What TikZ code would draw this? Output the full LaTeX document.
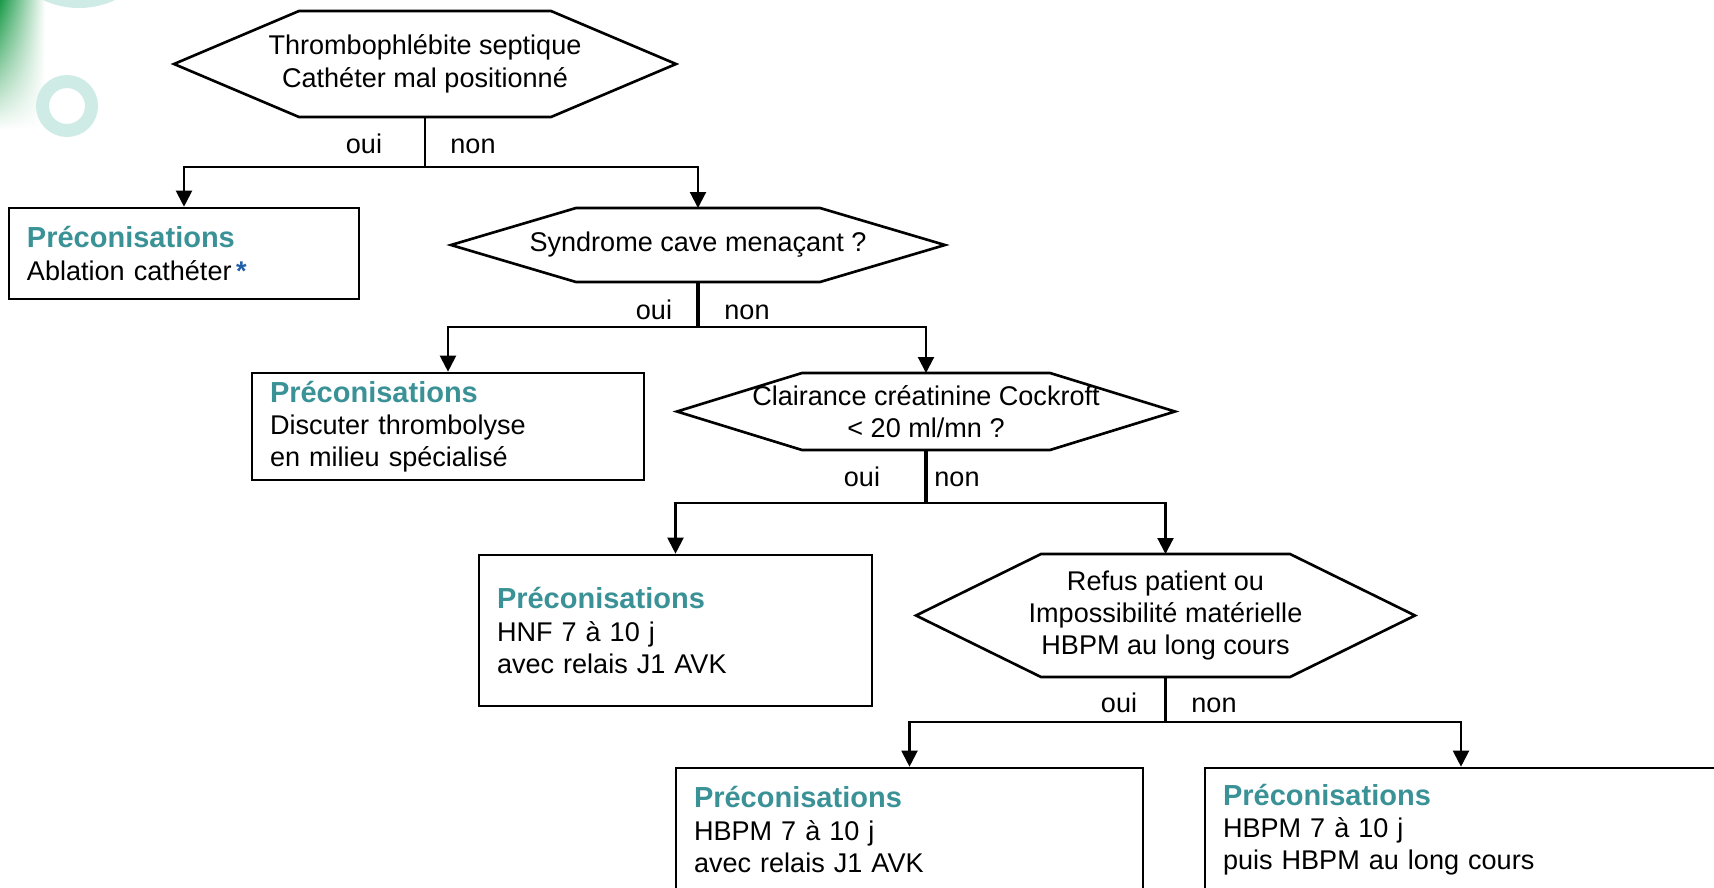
\documentclass[tikz,border=0pt]{standalone}
\usepackage{fontspec}
\setmainfont{Liberation Sans}
\usepackage{tikz}
\usetikzlibrary{arrows.meta, shadings}

\definecolor{precteal}{HTML}{3A9297}
\definecolor{starblue}{HTML}{1F5FA8}
\definecolor{ringteal}{HTML}{CEEBE6}
\definecolor{leafgreen}{HTML}{1A9A48}
\newcommand{\precon}{{\fontsize{16.5}{19}\selectfont\bfseries\color{precteal}Préconisations}}

\begin{document}
\begin{tikzpicture}[font=\fontsize{15.4}{18.4}\selectfont,
  hexa/.style={inner sep=0pt, outer sep=0pt, align=center},
  recbox/.style={draw, line width=1.5pt, align=left, inner xsep=0.36cm},
  link/.style={line width=1.2pt},
  arr/.style={link, -{Triangle[length=0.32cm,width=0.32cm]}},
  stem/.style={line width=2.2pt},
  lbl/.style={anchor=base, inner sep=0pt}]
\useasboundingbox (0,0) rectangle (34.28,-17.74);
\clip (0,0) rectangle (34.28,-17.74);

\shade[upper left=leafgreen, upper right=white, lower left=white, lower right=white] (0,0) rectangle (0.9,-2.6);
\fill[ringteal] (1.58,1.54) circle (1.70);
\draw[ringteal, line width=0.26cm] (1.34,-2.12) circle (0.49);

\node[hexa, minimum width=10.04cm, minimum height=2.12cm] (h1) at (8.50,-1.28) {Thrombophlébite septique\\Cathéter mal positionné};
\node[hexa, minimum width=9.88cm, minimum height=1.48cm] (h2) at (13.96,-4.90) {Syndrome cave menaçant ?};
\node[hexa, minimum width=9.96cm, minimum height=1.54cm] (h3) at (18.52,-8.23) {Clairance créatinine Cockroft\\< 20 ml/mn ?};
\node[hexa, minimum width=9.98cm, minimum height=2.46cm] (h4) at (23.31,-12.31) {Refus patient ou\\Impossibilité matérielle\\HBPM au long cours};

\foreach \n in {h1,h2,h3,h4}
  \draw[line width=1.5pt] (\n.west) -- ([xshift=2.5cm]\n.north west) -- ([xshift=-2.5cm]\n.north east) -- (\n.east) -- ([xshift=-2.5cm]\n.south east) -- ([xshift=2.5cm]\n.south west) -- cycle;

\node[recbox, minimum width=7.00cm, minimum height=1.82cm, text width=6.28cm] (b1) at (3.68,-5.07) {\precon\\Ablation cathéter\,{\color{starblue}\bfseries *}};
\node[recbox, minimum width=7.84cm, minimum height=2.14cm, text width=7.12cm] (b2) at (8.96,-8.53) {\precon\\Discuter thrombolyse\\en milieu spécialisé};
\node[recbox, minimum width=7.86cm, minimum height=3.02cm, text width=7.14cm] (b3) at (13.51,-12.61) {\precon\\HNF 7 à 10 j\\avec relais J1 AVK};
\node[recbox, minimum width=9.34cm, minimum height=2.46cm, text width=8.62cm] (b5) at (18.19,-16.59) {\precon\\HBPM 7 à 10 j\\avec relais J1 AVK};
\node[recbox, minimum width=10.24cm, minimum height=2.46cm, text width=9.52cm] (b6) at (29.22,-16.59) {\precon\\HBPM 7 à 10 j\\puis HBPM au long cours};

\coordinate (f1) at ([yshift=-1.0cm]h1.south);
\coordinate (f2) at ([yshift=-0.9cm]h2.south);
\coordinate (f3) at ([yshift=-1.06cm]h3.south);
\coordinate (f4) at ([yshift=-0.9cm]h4.south);

\draw[link] (h1.south) -- (f1);
\draw[arr] (f1) -| (b1.north);
\draw[arr] (f1) -| (h2.north);
\draw[stem] (h2.south) -- (f2);
\draw[arr] (f2) -| (b2.north);
\draw[arr] (f2) -| (h3.north);
\draw[stem] (h3.south) -- (f3);
\draw[arr] (f3) -| (b3.north);
\draw[arr] (f3) -| (h4.north);
\draw[link] (h4.south) -- (f4);
\draw[arr] (f4) -| (b5.north);
\draw[arr] (f4) -| (b6.north);

\node[lbl] (o1) at (7.28,-3.06) {oui};
\node[lbl] (n1) at (9.46,-3.06) {non};
\node[lbl] (o2) at (13.08,-6.38) {oui};
\node[lbl] (n2) at (14.94,-6.38) {non};
\node[lbl] (o3) at (17.24,-9.72) {oui};
\node[lbl] (n3) at (19.14,-9.72) {non};
\node[lbl] (o4) at (22.38,-14.25) {oui};
\node[lbl] (n4) at (24.28,-14.25) {non};
\end{tikzpicture}
\end{document}
